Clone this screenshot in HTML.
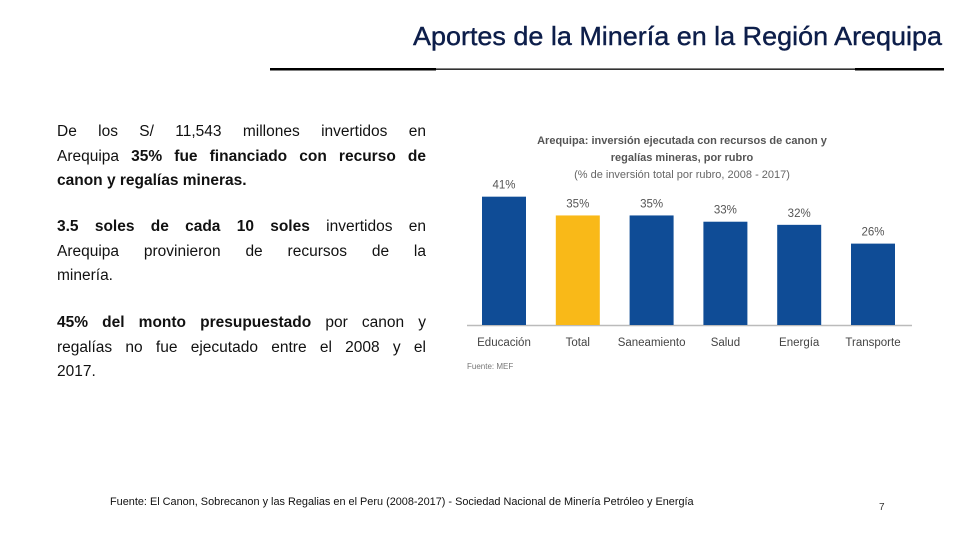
<!DOCTYPE html>
<html><head><meta charset="utf-8"><style>
body{margin:0;width:960px;height:540px;background:#fff;overflow:hidden;position:relative;font-family:"Liberation Sans",sans-serif}
.p{position:absolute;left:57px;width:369px;font-size:15.5px;color:#111}
.l{height:24.7px;line-height:24.7px;text-align:justify;text-align-last:justify;white-space:nowrap}
.l.last{text-align-last:left}
</style></head><body>
<svg width="960" height="540" style="position:absolute;left:0;top:0">
<text x="942" y="45" text-anchor="end" font-family="Liberation Sans Narrow, Liberation Sans, sans-serif" font-size="26" fill="#0d1e4a" stroke="#0d1e4a" stroke-width="0.4" textLength="529" lengthAdjust="spacingAndGlyphs">Aportes de la Minería en la Región Arequipa</text>
<rect x="270" y="68" width="166" height="2.5" fill="#000"/>
<rect x="436" y="68.5" width="426" height="1.3" fill="#000"/>
<rect x="855" y="68" width="89" height="2.5" fill="#000"/>
<g id="chart">
<text x="682" y="144" text-anchor="middle" font-size="11" font-weight="bold" fill="#555">Arequipa: inversión ejecutada con recursos de canon y</text>
<text x="682" y="161" text-anchor="middle" font-size="11" font-weight="bold" fill="#555">regalías mineras, por rubro</text>
<text x="682" y="178" text-anchor="middle" font-size="11" fill="#666">(% de inversión total por rubro, 2008 - 2017)</text>
<line x1="467" y1="325.5" x2="912" y2="325.5" stroke="#bbb" stroke-width="1.5"/>
<text x="467" y="369" font-size="8" fill="#777">Fuente: MEF</text>
</g>
</svg>
<div class="p" style="top:120px">
<div class="l">De los S/ 11,543 millones invertidos en</div>
<div class="l">Arequipa <b>35% fue financiado con recurso de</b></div>
<div class="l last"><b>canon y regalías mineras.</b></div>
</div>
<div class="p" style="top:215px">
<div class="l"><b>3.5 soles de cada 10 soles</b> invertidos en</div>
<div class="l">Arequipa provinieron de recursos de la</div>
<div class="l last">minería.</div>
</div>
<div class="p" style="top:311px">
<div class="l"><b>45% del monto presupuestado</b> por canon y</div>
<div class="l">regalías no fue ejecutado entre el 2008 y el</div>
<div class="l last">2017.</div>
</div>
<div style="position:absolute;left:110px;top:496px;font-size:10.9px;color:#111">Fuente: El Canon, Sobrecanon y las Regalias en el Peru (2008-2017) - Sociedad Nacional de Minería Petróleo y Energía</div>
<div style="position:absolute;left:879px;top:502px;font-size:10px;color:#333">7</div>
<script>
const categories=["Educación","Total","Saneamiento","Salud","Energía","Transporte"];
const values=[41,35,35,33,32,26];
const labels=["41%","35%","35%","33%","32%","26%"];
const highlight=[false,true,false,false,false,false];
const NS="http://www.w3.org/2000/svg";
const g=document.getElementById('chart');
const x0=504,step=73.8,baseY=325,pxPer=3.13,bw=44;
const xS=i=>x0+i*step;
const yS=v=>baseY-v*pxPer;
categories.forEach((c,i)=>{
  const r=document.createElementNS(NS,'rect');
  r.setAttribute('x',xS(i)-bw/2);r.setAttribute('y',yS(values[i]));
  r.setAttribute('width',bw);r.setAttribute('height',baseY-yS(values[i]));
  r.setAttribute('fill',highlight[i]?'#f9b918':'#0f4c96');
  
  
  g.appendChild(r);
  const t=document.createElementNS(NS,'text');
  t.setAttribute('x',xS(i));t.setAttribute('y',yS(values[i])-8);
  t.setAttribute('text-anchor','middle');t.setAttribute('font-size','11.5');t.setAttribute('fill','#555');
  t.textContent=labels[i];
  
  
  g.appendChild(t);
  const k=document.createElementNS(NS,'text');
  k.setAttribute('x',xS(i));k.setAttribute('y',346);
  k.setAttribute('text-anchor','middle');k.setAttribute('font-size','11.5');k.setAttribute('fill','#444');
  k.textContent=c;
  
  
  g.appendChild(k);
});
</script>
</body></html>
